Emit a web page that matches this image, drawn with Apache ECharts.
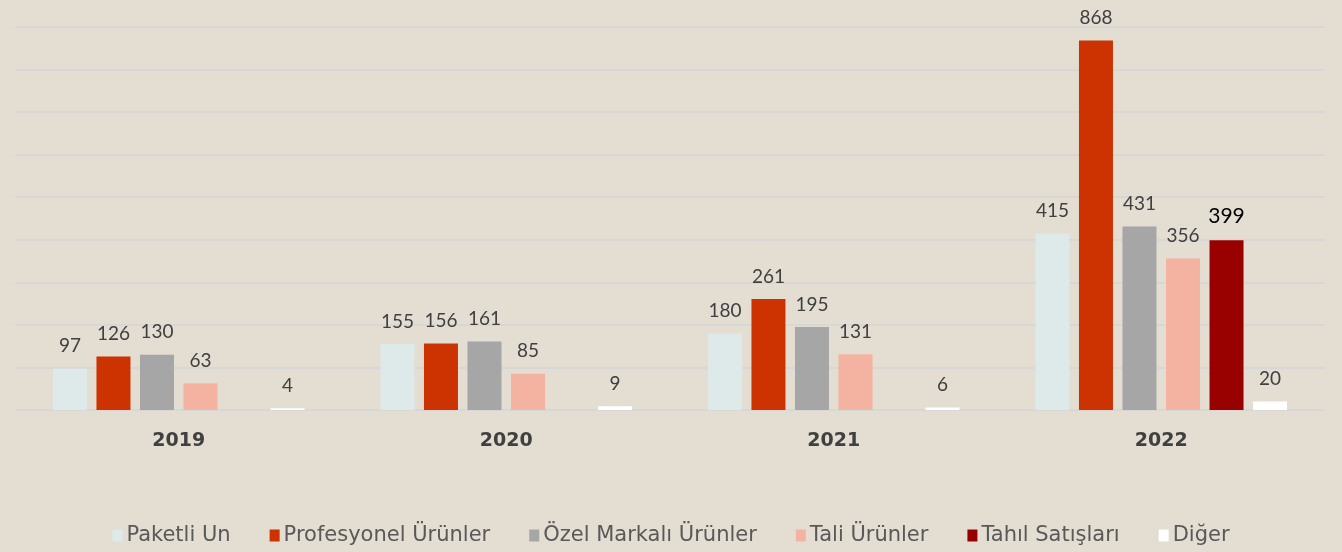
<!DOCTYPE html>
<html>
<head>
<meta charset="utf-8">
<script src="https://cdn.jsdelivr.net/npm/echarts@6/dist/echarts.min.js"></script>
<style>
    html, body { margin: 0; padding: 0; background: #e3ddd2; }
    #chart { width: 1342px; height: 552px; }
</style>
</head>
<body>
<div id="chart"></div>
<script>
const years = ["2019", "2020", "2021", "2022"];
const seriesNames = ["Paketli Un", "Profesyonel Ürünler", "Özel Markalı Ürünler", "Tali Ürünler", "Tahıl Satışları", "Diğer"];
const paketliUn = [97, 155, 180, 415];
const profesyonel = [126, 156, 261, 868];
const ozelMarkali = [130, 161, 195, 431];
const taliUrunler = [63, 85, 131, 356];
const tahilSatislari = [null, null, null, 399];
const diger = [4, 9, 6, 20];

const values = [paketliUn, profesyonel, ozelMarkali, taliUrunler, tahilSatislari, diger];
const colors = ["#deeaea", "#cc3300", "#a6a6a6", "#f4b3a1", "#990000", "#ffffff"];
const FONT = "Lato";
const WIDE = "DejaVu Sans";

const chart = echarts.init(document.getElementById("chart"));
chart.setOption({
    backgroundColor: "#e3ddd2",
    textStyle: { fontFamily: FONT },
    grid: { left: 15, right: 17, top: 27, bottom: 142 },
    legend: {
        data: seriesNames,
        bottom: 1,
        left: "center",
        itemWidth: 10,
        itemHeight: 12,
        itemGap: 39,
        icon: "rect",
        textStyle: { fontFamily: WIDE, fontSize: 21, color: "#595959", padding: [0, 0, 0, -1] }
    },
    xAxis: {
        type: "category",
        data: years,
        axisLine: { show: false },
        axisTick: { show: false },
        axisLabel: { fontFamily: WIDE, fontSize: 19, fontWeight: "bold", color: "#404040", margin: 22 }
    },
    yAxis: {
        type: "value",
        min: 0,
        max: 900,
        interval: 100,
        axisLabel: { show: false },
        axisLine: { show: false },
        axisTick: { show: false },
        splitLine: { lineStyle: { color: "#d7d7d6", width: 2 } }
    },
    series: seriesNames.map((name, i) => ({
        name: name,
        type: "bar",
        barWidth: 34,
        barGap: "28%",
        itemStyle: { color: colors[i] },
        label: {
            show: true,
            position: "top",
            distance: 13,
            fontFamily: FONT,
            fontSize: 19,
            color: "#404040"
        },
        data: values[i].map(v => (i === 4 && v != null)
            ? { value: v, label: { color: "#000000", fontSize: 21 } }
            : v)
    }))
});
window.addEventListener("resize", () => chart.resize());
</script>
</body>
</html>
